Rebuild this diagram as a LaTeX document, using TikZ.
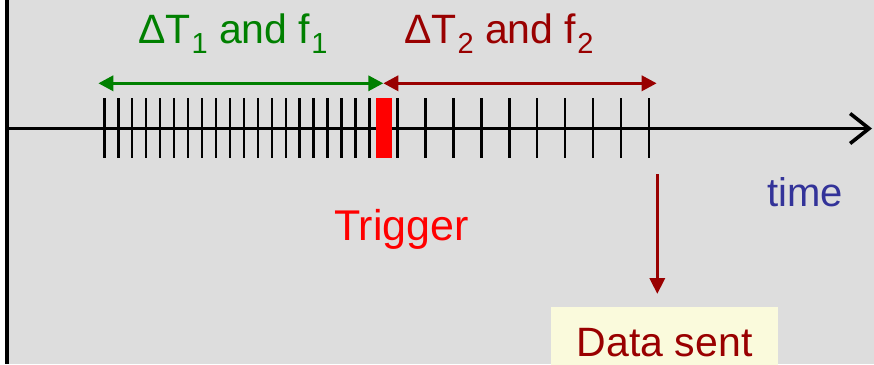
\documentclass[tikz,border=0pt]{standalone}
\usepackage{fontspec}
\setmainfont{Liberation Sans}
\usetikzlibrary{arrows.meta}
\definecolor{bggray}{RGB}{221,221,221}
\definecolor{myGreen}{RGB}{0,128,0}
\definecolor{myDarkRed}{RGB}{153,0,0}
\definecolor{myBlue}{RGB}{51,51,153}
\definecolor{boxYellow}{RGB}{250,250,220}
\newcommand\mysub[1]{\kern1pt\raisebox{-10pt}{\fontsize{29}{29}\selectfont #1}}
\tikzset{
  lbl/.style={inner sep=0pt, anchor=base west},
  tickline/.style={line width=2.5pt},
  spanarrow/.style={line width=3.3pt, {Triangle[length=15pt,width=15pt]}-{Triangle[length=15pt,width=15pt]}},
}
\begin{document}
\begin{tikzpicture}[x=1pt,y=-1pt]
\useasboundingbox (0,0) rectangle (874,364);
\fill[bggray] (7,0) rectangle (874,364);
\draw[line width=3.2pt] (7,0) -- (7,364);

% time axis
\coordinate (axL) at (7,128.5);
\coordinate (axR) at (872,128.5);
\draw[line width=3.4pt, -{Straight Barb[length=19pt,width=30pt,line width=3.6pt]}] (axL) -- (axR);

% ticks before trigger
\foreach \i in {0,...,19} {
  \draw[tickline] (104.3+13.96*\i,98) -- (104.3+13.96*\i,158);
}
% ticks after trigger
\foreach \i in {0,...,9} {
  \draw[tickline] (397.7+27.9*\i,98) -- (397.7+27.9*\i,158);
}
% trigger mark
\fill[red] (376,98) rectangle (391.7,158);

% span arrows
\coordinate (g1) at (98.3,83.3);
\coordinate (mid) at (383.3,83.3);
\coordinate (r2) at (656.7,83.3);
\draw[spanarrow, myGreen] (g1) -- (mid);
\draw[spanarrow, myDarkRed] (mid) -- (r2);

% labels
\node[lbl, text=myGreen, font=\fontsize{41}{41}\selectfont] (dt1) at (138,43) {ΔT\mysub{1} and f\mysub{1}};
\node[lbl, text=myDarkRed, font=\fontsize{41}{41}\selectfont] (dt2) at (404,43) {ΔT\mysub{2} and f\mysub{2}};
\node[lbl, text=red, font=\fontsize{43}{43}\selectfont] (trig) at (334,240) {Trigger};
\node[lbl, text=myBlue, font=\fontsize{40}{40}\selectfont] (time) at (767.3,206.7) {time};

% data sent box
\node[anchor=north west, fill=boxYellow, inner sep=0pt, minimum width=227pt,
      text height=49.7pt, text depth=12pt, text=myDarkRed,
      font=\fontsize{41}{41}\selectfont] (data) at (551,307) {Data sent};

% down arrow
\coordinate (dtop) at (657.3,174);
\draw[myDarkRed, line width=3.6pt, -{Triangle[length=16pt,width=15pt]}, shorten >=13pt] (dtop) -- (dtop |- data.north);
\end{tikzpicture}
\end{document}
